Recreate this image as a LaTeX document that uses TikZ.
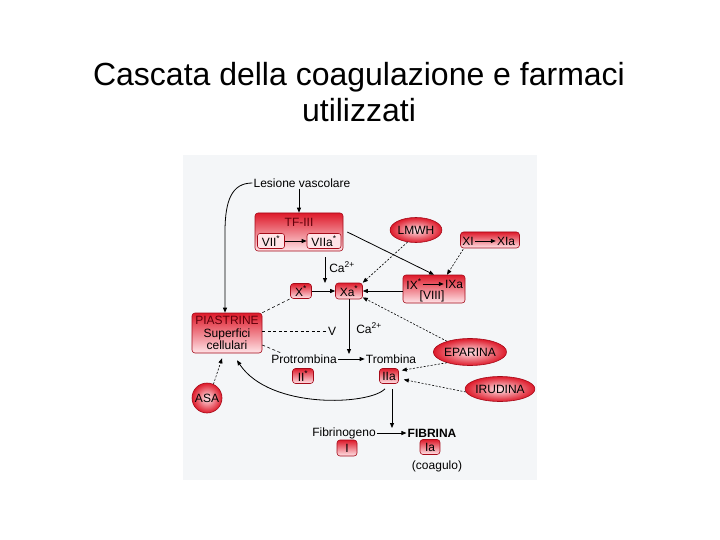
\documentclass[tikz,border=0pt]{standalone}
\usepackage{fontspec}
\setmainfont{Liberation Sans}
\usetikzlibrary{arrows.meta,shapes.geometric,calc}
\definecolor{figbg}{RGB}{244,246,248}
\definecolor{rtop}{RGB}{222,26,42}
\definecolor{rbot}{RGB}{255,228,232}
\definecolor{rbord}{RGB}{165,10,25}
\definecolor{ptxt}{RGB}{95,0,10}
\begin{document}
\begin{tikzpicture}[x=1bp,y=-1bp,
  font=\fontsize{12bp}{12.5bp}\selectfont,
  arr/.style={-{Triangle[length=5bp,width=4bp]},line width=0.8bp},
  darr/.style={-{Triangle[length=5bp,width=4bp]},line width=0.6bp,dash pattern=on 2bp off 1.6bp},
  dline/.style={line width=0.6bp,dash pattern=on 3bp off 2.5bp},
  redbox/.style={draw=rbord,line width=0.6bp,rounded corners=3bp,top color=rtop,bottom color=rbot,inner sep=0pt},
  inbox/.style={draw=rbord,line width=0.6bp,rounded corners=2.5bp,fill=rbot,inner sep=0pt},
  redell/.style={ellipse,draw=rbord,line width=0.6bp,inner color=rbot,outer color=rtop,inner sep=0pt},
  lbl/.style={inner sep=1bp},
  ttl/.style={anchor=base,font=\fontsize{32bp}{36bp}\selectfont}
]
\useasboundingbox (0,0) rectangle (720,540);
\fill[white] (0,0) rectangle (720,540);
\fill[figbg] (183,155) rectangle (537,480);

% title
\node[ttl] (t1) at (359,86) {Cascata della coagulazione e farmaci};
\node[ttl] (t2) at (359,122) {utilizzati};

% nodes
\node[lbl] (lesione) at (302,183) {Lesione vascolare};
\node[redbox,minimum width=88bp,minimum height=38bp] (tf) at (299,232) {};
\node[lbl,text=ptxt] (tft) at (299,222) {TF-III};
\node[inbox,minimum width=27bp,minimum height=15bp] (vii) at (271,241) {VII\textsuperscript{*}};
\node[inbox,minimum width=34bp,minimum height=15bp] (viia) at (324,241) {VIIa\textsuperscript{*}};

\node[redell,minimum width=48bp,minimum height=25bp] (lmwh) at (416,230) {LMWH};
\node[redbox,minimum width=59bp,minimum height=16bp] (xi) at (490,240) {};
\node[lbl] (xit) at (468,241) {XI};
\node[lbl] (xiat) at (506,241) {XIa};

\node[lbl] (ca1) at (342,267) {Ca\textsuperscript{2+}};
\node[redbox,minimum width=21bp,minimum height=15bp] (xs) at (301,291) {X\textsuperscript{*}};
\node[redbox,minimum width=27bp,minimum height=16bp] (xa) at (349,291) {Xa\textsuperscript{*}};
\node[redbox,minimum width=62bp,minimum height=28bp] (ix) at (434,289) {};
\node[lbl] (ixt) at (414,284) {IX\textsuperscript{*}};
\node[lbl] (ixat) at (454,284) {IXa};
\node[lbl] (viii) at (432,296) {[VIII]};

\node[redbox,minimum width=70bp,minimum height=40bp,align=center] (piastrine) at (227,333) {\textcolor{ptxt}{PIASTRINE}\\Superfici\\cellulari};
\node[lbl] (v) at (332,331) {V};
\node[lbl] (ca2) at (369,328) {Ca\textsuperscript{2+}};
\node[lbl] (protr) at (304,359) {Protrombina};
\node[lbl] (tromb) at (391,359) {Trombina};
\node[redbox,minimum width=21bp,minimum height=15bp] (ii) at (303,376) {II\textsuperscript{*}};
\node[redbox,minimum width=19bp,minimum height=15bp] (iia) at (389,376) {IIa};
\node[redell,minimum width=64bp,minimum height=27bp] (eparina) at (470,352) {EPARINA};
\node[redell,minimum width=65bp,minimum height=25bp] (irudina) at (500,389) {IRUDINA};
\node[circle,draw=rbord,line width=0.6bp,inner color=rbot,outer color=rtop,minimum size=30bp,inner sep=0pt] (asa) at (207,398) {ASA};

\node[lbl] (fibgen) at (344,433) {Fibrinogeno};
\node[lbl,font=\fontsize{12bp}{12.5bp}\selectfont\bfseries] (fibrina) at (432,433) {FIBRINA};
\node[redbox,minimum width=20bp,minimum height=16bp] (i) at (347,448) {I};
\node[redbox,minimum width=20bp,minimum height=15bp] (ia) at (430,447) {Ia};
\node[lbl] (coag) at (437,466) {(coagulo)};

% coordinates for free ends
\coordinate (c1) at (225,232);
\coordinate (cajoin) at (325,283);
\coordinate (tjoin) at (349,354);
\coordinate (fjoin) at (392,428);

% connectors
\draw[arr] (lesione.west) .. controls (232,183) and (225,200) .. (c1) -- (c1 |- piastrine.north);
\draw[arr] (tf.north |- lesione.south) -- (tf.north);
\draw[arr] (vii) -- (viia);
\draw[arr] (xit) -- (xiat);
\draw[arr] (ixt) -- (ixat);
\draw[arr] ([xshift=4bp]tf.east) -- (ix.north);
\draw[darr] ([xshift=3bp,yshift=-1bp]xi.south west) -- ([xshift=13bp]ix.north);
\draw[arr,shorten <=6bp] (tf.south -| cajoin) -- (cajoin);
\draw[arr] (xs) -- (xa);
\draw[arr] (ix.west |- xa.east) -- (xa.east);
\draw[darr] (lmwh.235) -- (xa.north east);
\draw[darr] (eparina.155) -- (xa.-25);
\draw[darr] (eparina.205) -- ([xshift=3bp]iia.30);
\draw[darr] (irudina.185) -- ([xshift=5bp]iia.-20);
\draw[arr] (xa.south) -- (tjoin);
\draw[arr] (protr.east) -- (tromb.west);
\draw[dline] (piastrine.north east) -- (xs.south west);
\draw[dline] (piastrine.east |- v.west) -- (v.west);
\draw[dline] ([yshift=-12bp]piastrine.east) -- ([xshift=12bp]protr.north west);
\draw[darr] (asa.65) -- ([xshift=-5bp,yshift=-5bp]piastrine.south);
\draw[arr] ([xshift=-4bp,yshift=-5bp]iia.south) .. controls (370,405) and (270,410) .. ([xshift=10bp,yshift=-7bp]piastrine.south);
\draw[arr,shorten <=5bp] (iia.south -| fjoin) -- (fjoin);
\draw[arr] (fibgen.east) -- (fibrina.west);
\end{tikzpicture}
\end{document}
